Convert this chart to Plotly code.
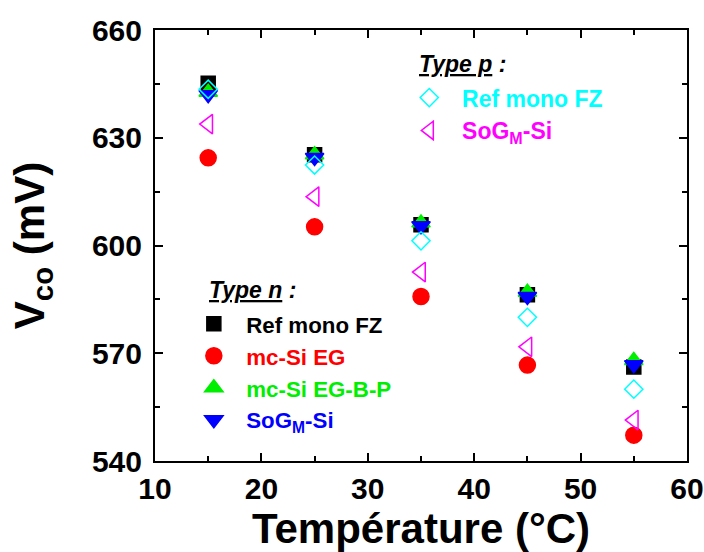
import plotly.graph_objects as go

temperature = [15, 25, 35, 45, 55]

n_ref_mono_fz = [645.2, 625.3, 605.8, 586.3, 566.2]
n_mc_si_eg = [624.4, 605.2, 585.8, 566.7, 547.2]
n_mc_si_eg_bp = [642.7, 625.3, 606.3, 587.0, 568.0]
n_sogm_si = [642.0, 624.5, 605.5, 585.8, 566.8]
p_ref_mono_fz = [643.5, 622.4, 601.3, 580.0, 560.0]
p_sogm_si = [633.8, 613.6, 592.6, 571.8, 551.4]

legend_titles = ["Type n", "Type p"]

FONT = "Liberation Sans, Arial, sans-serif"
PAD = "\u00a0\u00a0"

series = [
    ("Ref mono FZ", n_ref_mono_fz, "black", "square", 14, "legend"),
    ("mc-Si EG", n_mc_si_eg, "#ff0000", "circle", 16, "legend"),
    ("mc-Si EG-B-P", n_mc_si_eg_bp, "#00ee00", "triangle-up", 16, "legend"),
    ("SoG<sub>M</sub>-Si", n_sogm_si, "#0000ff", "triangle-down", 16, "legend"),
    ("Ref mono FZ", p_ref_mono_fz, "#00ffff", "diamond-open", 14, "legend2"),
    ("SoG<sub>M</sub>-Si", p_sogm_si, "#ff00ff", "triangle-left-open", 17, "legend2"),
]

fig = go.Figure()
for name, vals, color, sym, size, leg in series:
    fig.add_trace(go.Scatter(
        x=temperature, y=vals, mode="markers",
        name=f'{PAD}<span style="color:{color}">{name}</span>',
        marker=dict(symbol=sym, size=size, color=color,
                    line=dict(color=color, width=1.5)),
        legend=leg,
    ))

axis_common = dict(
    showline=True, linecolor="black", linewidth=2, mirror="ticks",
    ticks="inside", ticklen=8, tickwidth=2, tickcolor="black",
    showgrid=False, zeroline=False, automargin=False,
    tickfont=dict(family=FONT, size=30, color="black", weight="bold"),
)

legend_font = dict(family=FONT, size=23, color="black", weight="bold")
legend1_font = dict(family=FONT, size=22.3, color="black", weight="bold")

fig.update_layout(
    width=704, height=552,
    margin=dict(l=155, r=17, t=30, b=91),
    plot_bgcolor="white", paper_bgcolor="white",
    font=dict(family=FONT, color="black", weight="bold"),
    xaxis=dict(range=[10, 60], dtick=10, tick0=10,
               minor=dict(dtick=5, ticks="inside", ticklen=5, tickwidth=2, tickcolor="black"),
               ticklabelstandoff=0,
               title=dict(text="Température (°C)", standoff=0,
                          font=dict(family=FONT, size=42, color="black", weight="bold")),
               **axis_common),
    yaxis=dict(range=[540, 660], dtick=30, tick0=540,
               minor=dict(dtick=15, ticks="inside", ticklen=5, tickwidth=2, tickcolor="black"),
               ticklabelstandoff=5,
               title=dict(text="V<sub>co</sub> (mV)", standoff=34,
                          font=dict(family=FONT, size=42, color="black", weight="bold")),
               **axis_common),
    legend=dict(
        x=0.073, y=0.367, xanchor="left", yanchor="top",
        bgcolor="rgba(0,0,0,0)", borderwidth=0,
        font=legend1_font, tracegroupgap=0,
    ),
    legend2=dict(
        x=0.478, y=0.893, xanchor="left", yanchor="top",
        bgcolor="rgba(0,0,0,0)", borderwidth=0,
        font=legend_font, tracegroupgap=0,
    ),
    annotations=[
        dict(text=f"<i><u>{legend_titles[0]}</u> :</i>", xref="paper", yref="paper",
             x=0.098, y=0.397, xanchor="left", yanchor="middle", showarrow=False,
             font=legend_font),
        dict(text=f"<i><u>{legend_titles[1]}</u> :</i>", xref="paper", yref="paper",
             x=0.4925, y=0.921, xanchor="left", yanchor="middle", showarrow=False,
             font=legend_font),
    ],
)

fig.write_html("out.html", config={"displayModeBar": False},
               post_script="document.body.style.margin='0';document.body.style.padding='0';")
